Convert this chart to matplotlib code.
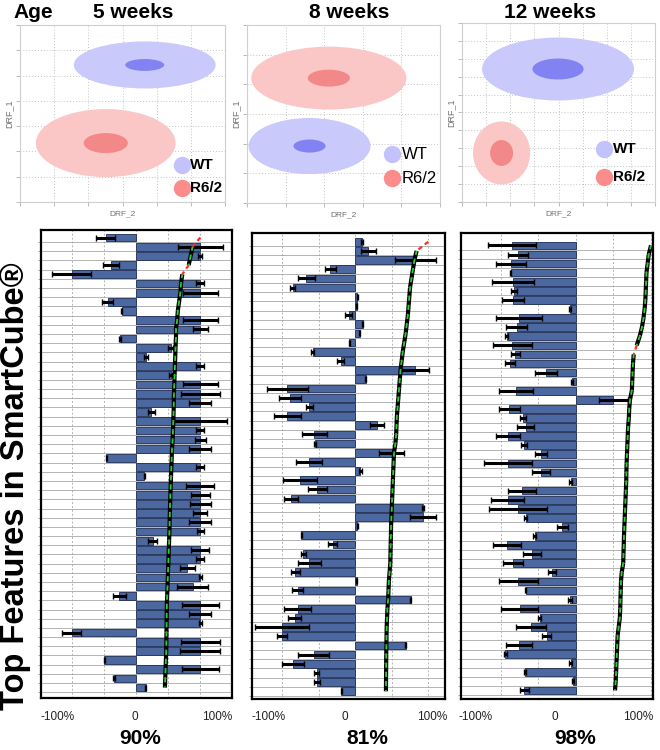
import matplotlib
matplotlib.use("Agg")
import matplotlib.pyplot as plt
import numpy as np
from matplotlib.patches import Ellipse
from matplotlib.transforms import ScaledTranslation

plt.rcParams['font.family'] = ['Liberation Sans', 'DejaVu Sans']

# ---------------- data ----------------
ages = ["5 weeks", "8 weeks", "12 weeks"]
groups = ["WT", "R6/2"]
accuracy = ["90%", "81%", "98%"]
xtick_values = [-100, -50, 0, 50, 100]
xtick_labels = ["-100%", "", "0", "", "100%"]

# DRF space: (centre x, centre y, outer width, outer height, inner width, inner height)
wt_ellipses = [
    (3.65, 5.42, 4.15, 1.86, 1.14, 0.47),
    (1.62, 1.92, 3.16, 1.89, 0.83, 0.44),
    (3.98, 7.43, 6.30, 3.52, 2.12, 1.17),
]
r62_ellipses = [
    (2.51, 2.33, 4.09, 2.69, 1.29, 0.79),
    (2.12, 4.21, 4.02, 2.12, 1.09, 0.57),
    (1.64, 2.74, 2.37, 3.52, 0.95, 1.45),
]
drf_grid = [(6, 7), (5, 6), (8, 10)]

# feature bars (percent), error (percent), cumulative line (percent)
values_5w = [-47, 100, 100, -39, -100, 100, 100, -44, -22, 100, 100, -25, 54, 16, 100,
             54, 100, 100, 100, 24, 100, 100, 100, 100, -46, 100, 13, 100, 100, 100,
             100, 100, 100, 26, 100, 100, 80, 100, 88, -26, 100, 100, 100, -100, 100,
             100, -49, 100, -34, 15]
errors_5w = [15, 35, 3, 12, 30, 6, 27, 9, 1, 27, 12, 1, 4, 3, 6, 2, 27, 30, 17, 5,
             41, 6, 9, 17, 1, 6, 1, 22, 15, 16, 11, 17, 5, 7, 14, 6, 12, 2, 24, 10,
             29, 17, 2, 15, 30, 31, 1, 29, 2, 1]
line_5w = [100, 88, 85, 82, 72, 70, 69, 67, 65, 64, 62, 62, 61.5, 61, 60.5, 60, 59.5,
           59, 58.8, 58.5, 58, 57.5, 57, 56, 55.5, 55, 54.5, 54, 53.5, 53, 52.7, 52.3,
           52, 51.5, 51, 50.5, 50, 49.5, 49, 48.5, 48, 47.8, 47.6, 47.4, 47.2, 47, 46.5,
           46, 45.5, 45]

values_8w = [9, 18, 82, -34, -67, -86, 3, 2, -9, 10, 6, -8, -58, -20, 82, 14, -93, -89,
             -63, -93, 30, -56, -55, 50, -63, 7, -76, -52, -88, 93, 93, 3, -74, -31,
             -71, -63, -82, 2, -79, 76, -79, -83, -101, -100, 69, -57, -85, -53, -52, -19]
errors_8w = [1, 10, 28, 7, 12, 3, 1, 1, 5, 1, 1, 1, 2, 5, 19, 1, 28, 15, 5, 19, 10, 17,
             1, 17, 18, 2, 23, 13, 9, 1, 18, 1, 1, 6, 4, 16, 6, 1, 8, 1, 18, 9, 37, 7,
             1, 21, 15, 3, 4, 1]
line_8w = [100, 84, 81, 79, 77, 75, 74, 73, 72, 70.5, 69, 67, 65, 63.5, 62, 61, 60, 59,
           58, 57, 56.5, 56, 55, 53, 52.5, 52, 51.5, 51, 50.5, 50, 49.5, 49, 48.8, 48.5,
           48.2, 48, 47, 46, 45.5, 45, 44, 43.5, 43, 42.8, 42.6, 42.4, 42.3, 42.2, 42.1, 42]

values_12w = [-85, -77, -87, -87, -84, -82, -84, -8, -76, -79, -92, -85, -81, -88, -40,
              -5, -80, 50, -89, -71, -67, -90, -69, -46, -90, -46, -7, -72, -91, -77,
              -67, -18, -55, -92, -58, -84, -32, -77, -67, -8, -75, -48, -60, -39, -76,
              -94, -7, -68, -4, -69]
errors_12w = [32, 13, 20, 1, 28, 4, 15, 1, 31, 14, 2, 26, 6, 7, 15, 1, 23, 19, 14, 4,
              11, 16, 4, 8, 32, 12, 2, 19, 22, 39, 2, 7, 2, 19, 12, 13, 5, 26, 1, 3,
              25, 2, 20, 6, 17, 2, 2, 1, 1, 6]
line_12w = [100, 97, 95.5, 94, 93.5, 93, 92.5, 91.5, 90, 88, 85, 81, 77, 76, 75.5, 75,
            74.5, 72, 71, 70.5, 69.5, 69, 68.5, 68, 67.5, 67.2, 67, 66.5, 66, 65.5, 65,
            64.5, 64, 63.7, 63.3, 63, 61, 60, 59.7, 59.3, 59, 58.5, 57, 55.5, 55, 54.5,
            54, 53.5, 53, 52]

red_segments = [[0, 3], [0], [11]]

all_values = [values_5w, values_8w, values_12w]
all_errors = [errors_5w, errors_8w, errors_12w]
all_lines = [line_5w, line_8w, line_12w]

# ---------------- styles / layout ----------------
W, H = 660, 750
fig = plt.figure(figsize=(W / 100, H / 100), dpi=100)


def rect(left, top, right, bottom):
    return [left / W, 1 - bottom / H, (right - left) / W, (bottom - top) / H]


top_rects = [rect(20, 25, 225, 202), rect(247, 25, 440, 203), rect(462, 23, 655, 202)]
bot_rects = [rect(41, 230, 232, 698), rect(252, 233, 445, 699), rect(461, 233, 653, 699)]
bot_xlims = [(-147.7, 149.3), (-141.5, 122.9), (-153.3, 102.7)]
bot_ylims = [(50.13, -0.82), (49.84, -0.95), (49.95, -1.37)]
label_shift = [(-14, -1, 17), (-14, -10, 4), (-25, -21, -13)]

wt_outer, wt_inner = '#c9c9fb', '#8282f2'
r_outer, r_inner = '#fbc6c6', '#f38888'
wt_legend, r_legend = '#c2c2fd', '#fb8c8c'
legend_pos = [(0.790, 0.209, 0.079, 0.829), (0.751, 0.275, 0.140, 0.803),
              (0.736, 0.296, 0.140, 0.782)]
legend_bold = ['bold', 'normal', 'bold']
legend_fs = [11, 12, 11]

# ---------------- top DRF panels ----------------
for k in range(3):
    ax = fig.add_axes(top_rects[k])
    xm, ym = drf_grid[k]
    ax.set_xlim(0, xm)
    ax.set_ylim(0, ym)
    ax.set_xticks(np.arange(0, xm + 1))
    ax.set_yticks(np.arange(0, ym + 1))
    ax.set_axisbelow(True)
    ax.grid(True, ls=(0, (1, 2)), color='#c4c4c4', lw=0.7)
    ax.tick_params(length=3, width=0.6, color='#b0b0b0', labelbottom=False, labelleft=False)
    for sp in ax.spines.values():
        sp.set_color('#cfcfcf')
        sp.set_linewidth(0.8)
    for (cx, cy, ow, oh, iw, ih), oc, ic in [(wt_ellipses[k], wt_outer, wt_inner),
                                            (r62_ellipses[k], r_outer, r_inner)]:
        ax.add_patch(Ellipse((cx, cy), ow, oh, facecolor=oc, edgecolor='none', zorder=2))
        ax.add_patch(Ellipse((cx, cy), iw, ih, facecolor=ic, edgecolor='none', zorder=3))
    ax.set_xlabel('DRF_2', fontsize=6, color='#707070', labelpad=3)
    ax.set_ylabel('DRF_1', fontsize=6.5, color='#707070', labelpad=2)
    mx, wy, ry, tx = legend_pos[k]
    for gy, col, name in [(wy, wt_legend, groups[0]), (ry, r_legend, groups[1])]:
        ax.plot([mx], [gy], 'o', ms=12.5, color=col, mec='none', transform=ax.transAxes,
                clip_on=False, zorder=5)
        ax.text(tx, gy, name, transform=ax.transAxes, fontsize=legend_fs[k],
                fontweight=legend_bold[k], va='center', ha='left', color='black', zorder=6)

# titles
fig.text(33 / W, 1 - 13 / H, "Age", fontsize=15, fontweight='bold', ha='center', va='center')
for k, xc in enumerate([133, 349, 550]):
    fig.text(xc / W, 1 - 13 / H, ages[k], fontsize=15, fontweight='bold',
             ha='center', va='center')

# ---------------- bottom bar panels ----------------
bar_color = '#4b68a1'
bar_edge = '#1d2b52'
for k in range(3):
    ax = fig.add_axes(bot_rects[k])
    v = np.array(all_values[k], dtype=float)
    e = np.array(all_errors[k], dtype=float)
    L = np.array(all_lines[k], dtype=float)
    y = np.arange(len(v))
    ax.barh(y, v, height=0.84, color=bar_color, edgecolor=bar_edge, linewidth=0.6, zorder=2)
    ax.errorbar(v, y, xerr=e, fmt='none', ecolor='black', elinewidth=2.2,
                capsize=2.0, capthick=1.0, zorder=3)
    for i in range(len(L) - 1):
        xs, ys = L[i:i + 2], y[i:i + 2]
        if i in red_segments[k]:
            ax.plot(xs, ys, color='#ff2a2a', lw=1.6, ls=(0, (2, 1.6)), zorder=6,
                    solid_capstyle='butt')
        else:
            ax.plot(xs, ys, color='black', lw=3.0, zorder=4, solid_capstyle='butt')
            ax.plot(xs, ys, color='#2fd02f', lw=1.3, ls=(0, (2.2, 2.2)), zorder=5)
    ax.set_xlim(*bot_xlims[k])
    ax.set_ylim(*bot_ylims[k])
    ax.set_xticks(xtick_values)
    ax.set_xticklabels(xtick_labels, fontsize=8.5, color='#222222')
    ax.set_yticks([])
    ax.set_yticks(y + 0.5, minor=True)
    ax.tick_params(axis='x', length=0, pad=9)
    ax.tick_params(axis='y', which='minor', length=2, width=0.5, color='#888888',
                   labelleft=False)
    ax.set_axisbelow(True)
    ax.grid(True, axis='x', which='major', ls=(0, (2, 2)), color='#b4b4b4', lw=0.7)
    ax.grid(True, axis='y', which='minor', ls='-', color='#a8a8a8', lw=0.6)
    for sp in ax.spines.values():
        sp.set_color('black')
        sp.set_linewidth(1.6)
    shifts = label_shift[k]
    labs = [lab for lab in ax.get_xticklabels()]
    for lab, dx in zip([labs[0], labs[2], labs[4]], shifts):
        lab.set_transform(lab.get_transform() + ScaledTranslation(dx / 100, 0, fig.dpi_scale_trans))

for k, xc in enumerate([140, 367, 575]):
    fig.text(xc / W, 1 - 739 / H, accuracy[k], fontsize=15, fontweight='bold',
             ha='center', va='center')

fig.text(16 / W, 1 - 486 / H, "Top Features in SmartCube®", rotation=90, fontsize=23.5,
         fontweight='bold', ha='center', va='center')

fig.savefig("out.png", dpi=100)
